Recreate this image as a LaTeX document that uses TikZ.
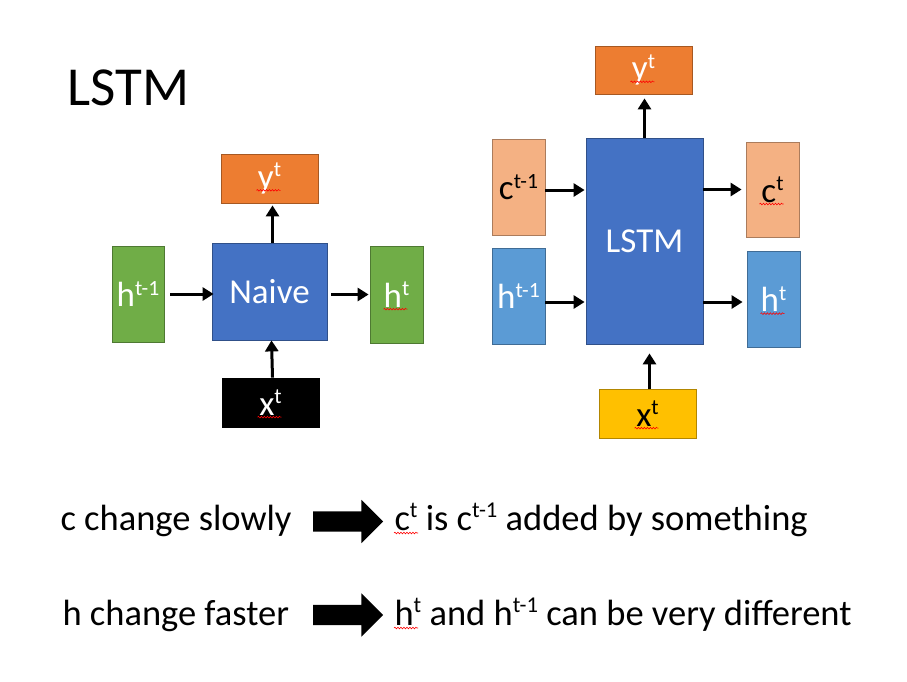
\documentclass[tikz,border=0pt]{standalone}
\usepackage{fontspec}
\setmainfont{Carlito}
\usetikzlibrary{arrows.meta,shapes.arrows,positioning,decorations.pathmorphing}

\definecolor{naivegreen}{HTML}{70AD47}
\definecolor{cellblue}{HTML}{4472C4}
\definecolor{outorange}{HTML}{ED7D31}
\definecolor{cellsalmon}{HTML}{F4B183}
\definecolor{hidblue}{HTML}{5B9BD5}
\definecolor{inyellow}{HTML}{FFC000}

\newcommand\sz[1]{\fontsize{#1}{#1}\selectfont}
\newcommand\up[1]{\raisebox{.33em}{\scalebox{.62}{#1}}}

\tikzset{
  box/.style={draw=#1!70!black, fill=#1, line width=0.8pt, inner sep=0pt,
    text=white, font=\sz{35}},
  flow/.style={line width=3pt, -{Triangle[length=11pt,width=13pt]}},
  bigarrow/.style={single arrow, fill=black, inner xsep=0pt, inner ysep=10pt,
    minimum width=0pt, minimum height=70pt, single arrow head extend=11.5pt,
    single arrow head indent=0pt},
  line/.style={anchor=base west, font=\sz{36.5}},
  squig/.style={red, line width=0.6pt, decorate,
    decoration={snake, segment length=3pt, amplitude=0.8pt}}
}

\begin{document}
\begin{tikzpicture}[x=1pt, y=-1pt]
  \useasboundingbox (0,0) rectangle (907,681);

  \node[anchor=base west, font=\sz{55}] (title) at (64,105) {LSTM};

  % naive cell
  \node[box=cellblue, minimum width=115pt, minimum height=97pt] (naive) at (269.5,291.5) {Naive};
  \node[box=naivegreen, minimum width=52pt, minimum height=96pt] (hprev) at (138,294) {h\up{t-1}};
  \node[box=naivegreen, minimum width=53pt, minimum height=97pt] (hnext) at (396.5,294.5) {h\up{t}};
  \node[box=outorange, minimum width=97pt, minimum height=49pt] (ynaive) at (269.5,178.5) {y\up{t}};
  \node[box=black, draw=black, minimum width=97pt, minimum height=49pt] (xnaive) at (270.5,402.5) {x\up{t}};

  \draw[flow, shorten >=4pt] ([xshift=6pt]hprev.east) -- ([xshift=6pt]hprev.east -| naive.west);
  \draw[flow, shorten >=1pt] ([xshift=4pt]naive.east |- hnext.west) -- (hnext.west);
  \draw[flow, shorten >=2pt] ([xshift=3pt]naive.north) -- ([xshift=3pt]ynaive.south);
  \draw[flow] ([xshift=2pt]xnaive.north) -- ([xshift=2pt]naive.south);

  % lstm cell
  \node[box=cellblue, minimum width=117pt, minimum height=206pt] (lstm) at (644.5,241) {LSTM};
  \node[box=outorange, minimum width=97pt, minimum height=48pt] (ylstm) at (643.5,70) {y\up{t}};
  \node[box=cellsalmon, text=black, minimum width=53pt, minimum height=96pt] (cprev) at (518.5,187) {c\up{t-1}};
  \node[box=hidblue, minimum width=53pt, minimum height=96pt] (hprev2) at (518.5,296) {h\up{t-1}};
  \node[box=cellsalmon, text=black, minimum width=53pt, minimum height=95pt] (cnext) at (772.5,189.5) {c\up{t}};
  \node[box=hidblue, minimum width=53pt, minimum height=96pt] (hnext2) at (773.5,299) {h\up{t}};
  \node[box=inyellow, text=black, minimum width=97pt, minimum height=49pt] (xlstm) at (647.5,413.5) {x\up{t}};

  \draw[flow, shorten >=1pt] ([yshift=-3pt]cprev.east) -- ([yshift=-3pt]cprev.east -| lstm.west);
  \draw[flow, shorten >=1pt] ([yshift=-6pt]hprev2.east) -- ([yshift=-6pt]hprev2.east -| lstm.west);
  \draw[flow, shorten >=4pt] (lstm.east |- cnext.west) -- (cnext.west);
  \draw[flow, shorten >=4pt] ([yshift=-3pt]lstm.east |- hnext2.west) -- ([yshift=-3pt]hnext2.west);
  \draw[flow, shorten >=4pt] (lstm.north) -- (lstm.north |- ylstm.south);
  \draw[flow, shorten >=9pt] ([xshift=2pt]xlstm.north) -- ([xshift=2pt]xlstm.north |- lstm.south);

  % c and h
  \node[line] (slow) at (57,530) {c change slowly};
  \node[bigarrow] (slowarr) at (343,521.5) {};
  \node[line] (slowres) at (391,530) {c\up{t} is c\up{t-1} added by something};

  \node[line] (fast) at (59,625) {h change faster};
  \node[bigarrow] (fastarr) at (343,615) {};
  \node[line] (fastres) at (391,625) {h\up{t} and h\up{t-1} can be very different};

  % spell check marks
  \foreach \n in {hnext, ynaive, xnaive, ylstm, cnext, hnext2, xlstm}
    \draw[squig] ([xshift=-13pt, yshift=-2pt]\n.base) -- ++(24,0);
  \foreach \n in {slowres, fastres}
    \draw[squig] ([xshift=3pt, yshift=-3pt]\n.base west) -- ++(24,0);
\end{tikzpicture}
\end{document}
